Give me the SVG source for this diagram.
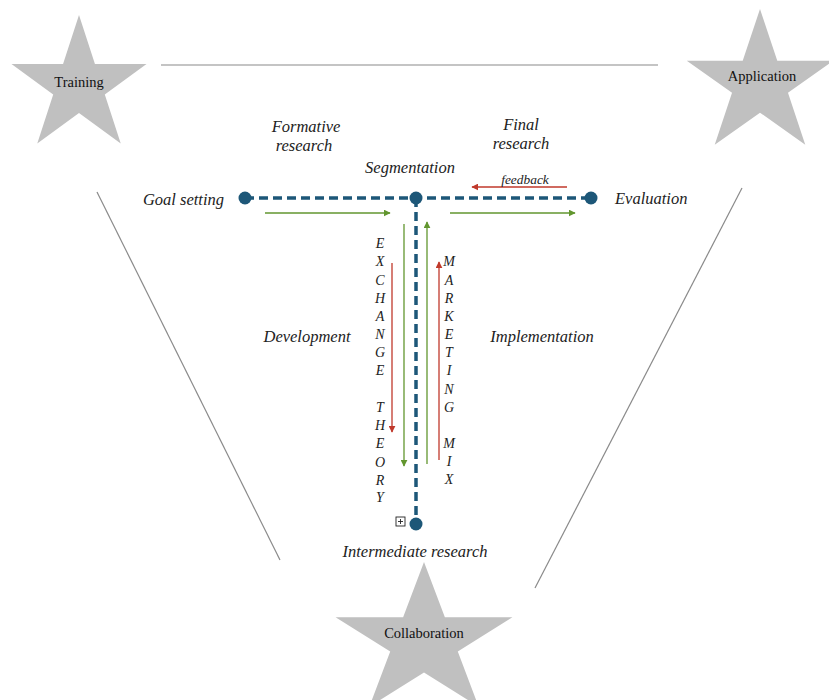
<svg xmlns="http://www.w3.org/2000/svg" width="829" height="700" viewBox="0 0 829 700">
<style>
text{font-family:'Liberation Serif','DejaVu Serif','Times New Roman',serif}
.lbl{font-style:italic;font-size:16.5px;fill:#222}
.let{font-style:italic;font-size:14px;fill:#222;text-anchor:middle}
.star{fill:#c0c0c0}
.stxt{font-size:14.5px;fill:#111;text-anchor:middle}
.frame{stroke:#8a8a8a;stroke-width:1.2;fill:none}
.dash{stroke:#1d5778;stroke-width:3.5;stroke-dasharray:9 5;fill:none}
.dot{fill:#1d5778}
.g{stroke:#62962f;stroke-width:1.3;fill:none;marker-end:url(#ga)}
.r{stroke:#c0392b;stroke-width:1.3;fill:none;marker-end:url(#ra)}
</style>
<defs>
<marker id="ga" viewBox="0 0 10 10" refX="9" refY="5" markerWidth="7" markerHeight="7" orient="auto" markerUnits="userSpaceOnUse"><path d="M0,0 L10,5 L0,10 z" fill="#62962f"/></marker>
<marker id="ra" viewBox="0 0 10 10" refX="9" refY="5" markerWidth="7" markerHeight="7" orient="auto" markerUnits="userSpaceOnUse"><path d="M0,0 L10,5 L0,10 z" fill="#c0392b"/></marker>
<polygon id="st" points="0,-1 0.2245,-0.309 0.951,-0.309 0.3633,0.118 0.5878,0.809 0,0.382 -0.5878,0.809 -0.3633,0.118 -0.951,-0.309 -0.2245,-0.309"/>
</defs>
<g id="frame">
<line class="frame" x1="161" y1="65" x2="658" y2="65"/>
<line class="frame" x1="97" y1="192" x2="280" y2="560"/>
<line class="frame" x1="742" y1="188" x2="535" y2="588"/>
</g>
<g id="training"><use href="#st" class="star" transform="translate(79,86) scale(71,71)"/><text class="stxt" x="79" y="87">Training</text></g>
<g id="application"><use href="#st" class="star" transform="translate(760,84) scale(77,75)"/><text class="stxt" x="762" y="81">Application</text></g>
<g id="collaboration"><use href="#st" class="star" transform="translate(424,642) scale(93,80)"/><text class="stxt" x="424" y="638">Collaboration</text></g>
<g id="connectors">
<line class="dash" x1="245" y1="198" x2="591" y2="198"/>
<line class="dash" x1="416" y1="198" x2="416" y2="524"/>
<line class="g" x1="265" y1="213" x2="390" y2="213"/>
<line class="g" x1="450" y1="213" x2="575" y2="213"/>
<line class="g" x1="404" y1="224" x2="404" y2="466"/>
<line class="g" x1="427" y1="464" x2="427" y2="222"/>
<line class="r" x1="392" y1="263" x2="392" y2="432"/>
<line class="r" x1="439" y1="460" x2="439" y2="262"/>
<line class="r" x1="567" y1="187" x2="472" y2="187"/>
</g>
<g id="goal"><circle class="dot" cx="245" cy="198" r="6.5"/><text class="lbl" x="224" y="205" text-anchor="end">Goal setting</text></g>
<g id="segmentation"><circle class="dot" cx="416" cy="198" r="6.5"/><text class="lbl" x="410" y="173" text-anchor="middle">Segmentation</text></g>
<g id="evaluation"><circle class="dot" cx="591" cy="198" r="6.5"/><text class="lbl" x="615" y="204">Evaluation</text></g>
<g id="intermediate"><circle class="dot" cx="416" cy="524" r="6.5"/><rect x="396" y="517" width="9" height="9" fill="#fff" stroke="#222" stroke-width="0.9"/><path d="M400.5,519 v5 M398,521.5 h5" stroke="#222" stroke-width="0.9"/><text class="lbl" x="415" y="557" text-anchor="middle">Intermediate research</text></g>
<g id="formative"><text class="lbl" x="306" y="132" text-anchor="middle">Formative</text><text class="lbl" x="304" y="151" text-anchor="middle">research</text></g>
<g id="final"><text class="lbl" x="521" y="130" text-anchor="middle">Final</text><text class="lbl" x="521" y="149" text-anchor="middle">research</text></g>
<g id="feedback"><text class="lbl" x="525" y="184" text-anchor="middle" style="font-size:13.4px">feedback</text></g>
<g id="development"><text class="lbl" x="307" y="342" text-anchor="middle">Development</text></g>
<g id="implementation"><text class="lbl" x="542" y="342" text-anchor="middle">Implementation</text></g>
<g id="exchange">
<text class="let" x="380" y="248">E</text><text class="let" x="380" y="266">X</text><text class="let" x="380" y="285">C</text><text class="let" x="380" y="303">H</text><text class="let" x="380" y="321">A</text><text class="let" x="380" y="339">N</text><text class="let" x="380" y="357">G</text><text class="let" x="380" y="375">E</text>
<text class="let" x="380" y="412">T</text><text class="let" x="380" y="430">H</text><text class="let" x="380" y="448">E</text><text class="let" x="380" y="467">O</text><text class="let" x="380" y="485">R</text><text class="let" x="380" y="502">Y</text>
</g>
<g id="marketing">
<text class="let" x="449" y="266">M</text><text class="let" x="449" y="285">A</text><text class="let" x="449" y="303">R</text><text class="let" x="449" y="321">K</text><text class="let" x="449" y="339">E</text><text class="let" x="449" y="357">T</text><text class="let" x="449" y="375">I</text><text class="let" x="449" y="394">N</text><text class="let" x="449" y="412">G</text>
<text class="let" x="449" y="448">M</text><text class="let" x="449" y="466">I</text><text class="let" x="449" y="484">X</text>
</g>
</svg>
